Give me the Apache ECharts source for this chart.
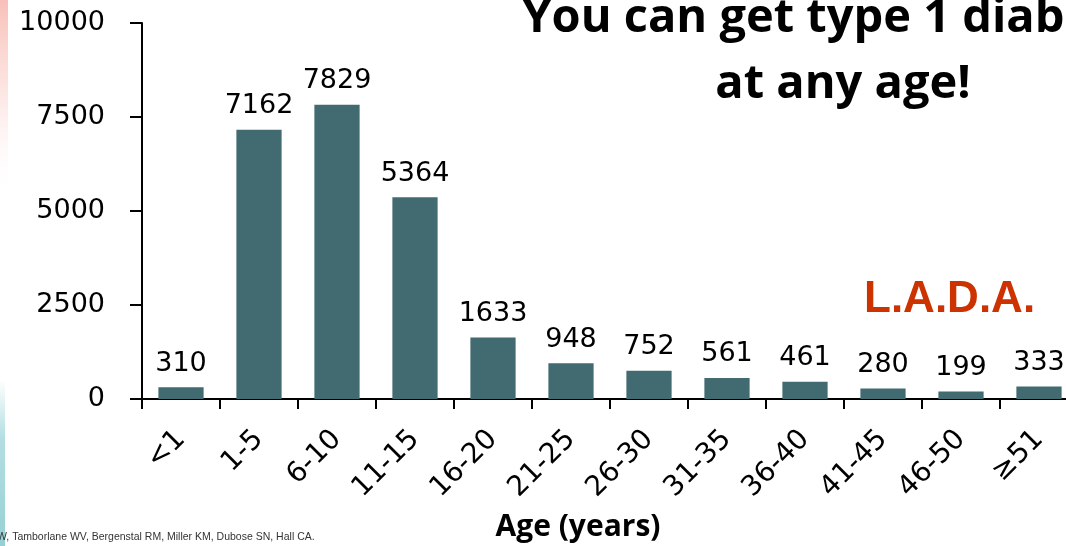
<!DOCTYPE html>
<html>
<head>
<meta charset="utf-8">
<script src="https://cdn.jsdelivr.net/npm/echarts@6/dist/echarts.min.js"></script>
<style>
  html, body { margin: 0; padding: 0; background: #fff; }
  #chart { width: 1066px; height: 546px; }
</style>
</head>
<body>
<div id="chart"></div>
<script>
// Age groups at diagnosis and number of people in each group
const ageGroups = ['<1', '1-5', '6-10', '11-15', '16-20', '21-25', '26-30', '31-35', '36-40', '41-45', '46-50', '\u226551'];
const patientCounts = [310, 7162, 7829, 5364, 1633, 948, 752, 561, 461, 280, 199, 333];
const yTicks = { min: 0, max: 10000, interval: 2500 };

const titleLines = ['You can get type 1 diabetes', 'at any age!'];
const calloutText = 'L.A.D.A.';
const axisTitle = 'Age (years)';
const citation = 'W, Tamborlane WV, Bergenstal RM, Miller KM, Dubose SN, Hall CA.';

const chart = echarts.init(document.getElementById('chart'), null, { renderer: 'canvas' });

const digitFont = '"DejaVu Sans", Verdana, sans-serif';

chart.setOption({
  animation: false,
  backgroundColor: '#ffffff',
  grid: {
    left: 142, top: 23, width: 936, height: 376,
    containLabel: false,
    outerBoundsMode: 'none'
  },
  title: [
    {
      text: titleLines.join('\n'),
      left: 838,
      top: -19,
      textAlign: 'center',
      textStyle: {
        fontFamily: '"Open Sans", sans-serif',
        fontWeight: 'bold',
        fontSize: 47,
        lineHeight: 66,
        color: '#000000'
      }
    },
    {
      text: calloutText,
      left: 859,
      top: 273,
      textStyle: {
        fontFamily: '"Liberation Sans", Arial, sans-serif',
        fontWeight: 'bold',
        fontSize: 44,
        color: '#CC3300'
      }
    }
  ],
  xAxis: {
    type: 'category',
    data: ageGroups,
    boundaryGap: true,
    name: axisTitle,
    nameLocation: 'middle',
    nameGap: 113,
    nameTextStyle: {
      fontFamily: '"Open Sans", sans-serif',
      fontWeight: 'bold',
      fontSize: 30,
      color: '#000000',
      padding: [0, 64, 0, 0]
    },
    axisLine: { show: true, lineStyle: { color: '#000000', width: 2 } },
    axisTick: { show: true, length: 10, lineStyle: { color: '#000000', width: 2 } },
    axisLabel: {
      rotate: 45,
      margin: 36,
      fontFamily: digitFont,
      fontSize: 28,
      color: '#000000',
      interval: 0
    },
    splitLine: { show: false }
  },
  yAxis: {
    type: 'value',
    min: yTicks.min,
    max: yTicks.max,
    interval: yTicks.interval,
    axisLine: { show: true, lineStyle: { color: '#000000', width: 2 } },
    axisTick: { show: true, length: 12, lineStyle: { color: '#000000', width: 2 } },
    axisLabel: {
      margin: 37,
      fontFamily: digitFont,
      fontSize: 27,
      color: '#000000',
      formatter: (v) => String(v)
    },
    splitLine: { show: false }
  },
  series: [
    {
      type: 'bar',
      data: patientCounts,
      barWidth: '58%',
      itemStyle: { color: '#416B70' },
      label: {
        show: true,
        position: 'top',
        distance: 10,
        fontFamily: digitFont,
        fontSize: 27,
        color: '#000000'
      }
    }
  ],
  graphic: [
    // slide edge accents
    {
      type: 'rect',
      shape: { x: 0, y: 0, width: 8, height: 200 },
      style: {
        fill: new echarts.graphic.LinearGradient(0, 0, 0, 1, [
          { offset: 0, color: 'rgba(247,180,172,0.85)' },
          { offset: 0.5, color: 'rgba(250,210,205,0.5)' },
          { offset: 1, color: 'rgba(255,255,255,0)' }
        ])
      },
      silent: true
    },
    {
      type: 'rect',
      shape: { x: 0, y: 380, width: 5, height: 166 },
      style: {
        fill: new echarts.graphic.LinearGradient(0, 0, 0, 1, [
          { offset: 0, color: 'rgba(160,214,218,0)' },
          { offset: 0.35, color: 'rgba(160,214,218,0.8)' },
          { offset: 1, color: 'rgba(150,208,212,1)' }
        ])
      },
      silent: true
    },
    {
      type: 'text',
      left: -3,
      top: 532,
      style: {
        text: citation,
        fontFamily: '"Liberation Sans", Arial, sans-serif',
        fontSize: 10.5,
        fill: '#333333'
      },
      silent: true
    }
  ]
});
</script>
</body>
</html>
